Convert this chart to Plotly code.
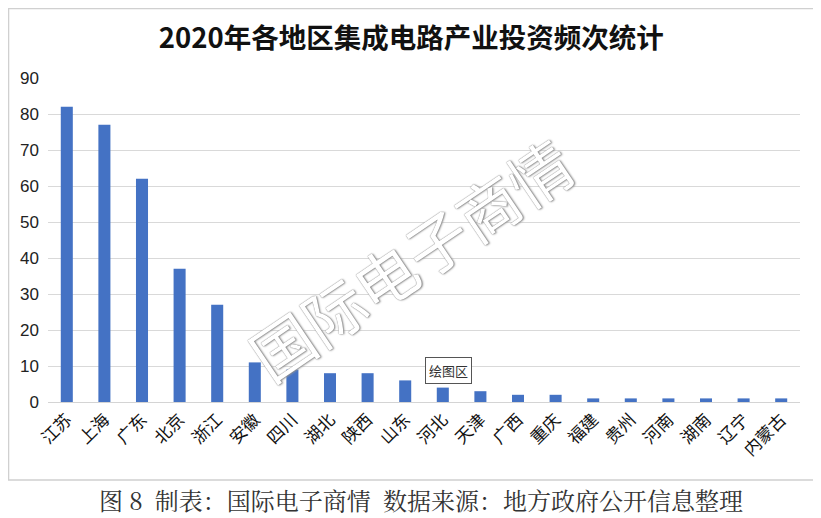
import plotly.graph_objects as go

# 2020年各地区集成电路产业投资频次
regions = ["江苏", "上海", "广东", "北京", "浙江", "安徽", "四川", "湖北", "陕西", "山东",
           "河北", "天津", "广西", "重庆", "福建", "贵州", "河南", "湖南", "辽宁", "内蒙古"]
counts = [82, 77, 62, 37, 27, 11, 9, 8, 8, 6, 4, 3, 2, 2, 1, 1, 1, 1, 1, 1]
y_ticks = [0, 10, 20, 30, 40, 50, 60, 70, 80, 90]

title_text = "2020年各地区集成电路产业投资频次统计"
caption_text = "图 8  制表：国际电子商情  数据来源：地方政府公开信息整理"
watermark_text = "国际电子商情"

cjk = "Noto Sans CJK SC, Liberation Sans, sans-serif"

fig = go.Figure()
fig.add_trace(go.Bar(
    x=regions,
    y=counts,
    marker=dict(color="#4472C4", line=dict(width=0)),
    width=0.32,
))

# page body has an 8px margin, so the figure is 8px smaller than the window
fig.update_layout(
    width=813,
    height=510,
    margin=dict(l=40, r=21, t=70, b=116, autoexpand=False),
    paper_bgcolor="white",
    plot_bgcolor="white",
    showlegend=False,
    font=dict(family=cjk, color="#222222"),
    title=dict(
        text="<b>" + title_text + "</b>",
        x=0.483, xanchor="center", xref="paper",
        y=0.941, yanchor="middle",
        font=dict(size=27.5, color="#111111", family=cjk),
    ),
    xaxis=dict(
        tickangle=-45,
        tickfont=dict(size=17, color="#111111", family=cjk),
        showline=True, linecolor="#d4d4d4", linewidth=1,
        showgrid=False, ticks="",
    ),
    yaxis=dict(
        range=[0, 90],
        tickvals=y_ticks,
        tickfont=dict(size=17, color="#222222", family="Liberation Sans, Arial, sans-serif"),
        showgrid=True, gridcolor="#d9d9d9", gridwidth=1,
        zeroline=False, showline=False, ticks="",
        ticklabelstandoff=8,
    ),
)

# outer chart frame
fig.add_shape(type="rect", xref="paper", yref="paper",
              x0=-0.0525, x1=1.024, y0=-0.2407, y1=1.2145,
              line=dict(color="#d0d0d0", width=1.5), fillcolor="rgba(0,0,0,0)", layer="below")

# watermark
fig.add_annotation(
    text=watermark_text, xref="paper", yref="paper",
    x=0.481, y=0.444, showarrow=False, textangle=-34,
    font=dict(size=62, color="white", family=cjk,
              shadow="0px 0px 1px #555555, 1px 1px 2px #999999"),
)

# hover tag "绘图区"
fig.add_annotation(
    text="绘图区", xref="paper", yref="paper",
    x=0.501, y=0.096, xanchor="left", yanchor="middle", showarrow=False,
    font=dict(size=13, color="#333333", family=cjk),
    bgcolor="white", bordercolor="#555555", borderwidth=1, borderpad=3,
)

# caption under frame
fig.add_annotation(
    text=caption_text, xref="paper", yref="paper",
    x=0.496, y=-0.302, xanchor="center", yanchor="middle", showarrow=False,
    font=dict(size=24, color="#333333", family="Noto Serif CJK SC, Noto Sans CJK SC, serif"),
)

fig.write_html("out.html")
